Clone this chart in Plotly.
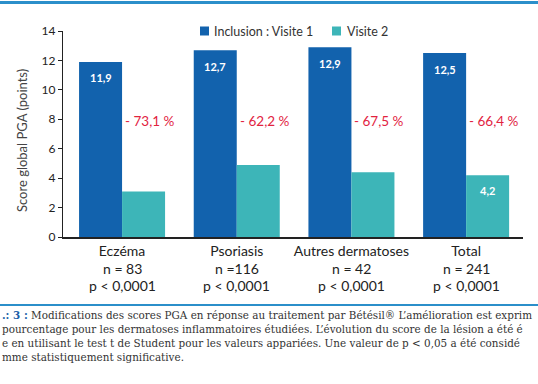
import plotly.graph_objects as go

categories = ["Eczéma", "Psoriasis", "Autres dermatoses", "Total"]
cat_n = ["n = 83", "n =116", "n = 42", "n = 241"]
cat_p = ["p < 0,0001", "p < 0,0001", "p < 0,0001", "p < 0,0001"]
series_names = ["Inclusion : Visite 1", "Visite 2"]
inclusion = [11.9, 12.7, 12.9, 12.5]
visite2 = [3.1, 4.9, 4.4, 4.2]
inclusion_labels = ["11,9", "12,7", "12,9", "12,5"]
visite2_labels = ["", "", "", "4,2"]
reductions = ["- 73,1 %", "- 62,2 %", "- 67,5 %", "- 66,4 %"]
y_ticks = [0, 2, 4, 6, 8, 10, 12, 14]

W, H = 538, 384
L, R, T, B = 63, 15, 31, 147
PW, PH = W - L - R, H - T - B

def px(x):
    return (x - L) / PW

def py(y):
    return (H - B - y) / PH

BLUE = "#1262ad"
TEAL = "#3db5b8"
RED = "#e2233f"
LINE = "#2b8fca"
FONT = "Lato"
colors = [BLUE, TEAL]

fig = go.Figure()
fig.add_trace(go.Bar(x=categories, y=inclusion, name=series_names[0],
                     marker=dict(color=BLUE, line=dict(width=0))))
fig.add_trace(go.Bar(x=categories, y=visite2, name=series_names[1],
                     marker=dict(color=TEAL, line=dict(width=0))))

ann = []
off = 0.1875
for i, (v, t) in enumerate(zip(inclusion, inclusion_labels)):
    ann.append(dict(x=i - off, y=v, xref="x", yref="y", text=f"<b>{t}</b>",
                    showarrow=False, yshift=-16,
                    font=dict(family=FONT, size=11, color="white")))
for i, (v, t) in enumerate(zip(visite2, visite2_labels)):
    if t:
        ann.append(dict(x=i + off, y=v, xref="x", yref="y", text=f"<b>{t}</b>",
                        showarrow=False, yshift=-15,
                        font=dict(family=FONT, size=11, color="white")))
for i, t in enumerate(reductions):
    ann.append(dict(x=i + off, y=7.9, xref="x", yref="y", text=t,
                    showarrow=False, xshift=6,
                    font=dict(family=FONT, size=13.5, color=RED)))

for i, (n, p) in enumerate(zip(cat_n, cat_p)):
    ann.append(dict(x=i, y=py(268), xref="x", yref="paper", text=n, showarrow=False,
                    yanchor="middle", font=dict(family=FONT, size=14, color="#222222")))
    ann.append(dict(x=i, y=py(285), xref="x", yref="paper", text=p, showarrow=False,
                    yanchor="middle", font=dict(family=FONT, size=14, color="#222222")))

ann.append(dict(x=px(12), y=py(141), xref="paper", yref="paper",
                text="Score global PGA (points)", textangle=-90, showarrow=False,
                font=dict(family=FONT, size=13, color="#444444")))

caption = [
    "<span style='color:#1a5fa8'><b>.: 3 :</b></span> Modifications des scores PGA en réponse au traitement par Bétésil® L’amélioration est exprim",
    "pourcentage pour les dermatoses inflammatoires étudiées. L’évolution du score de la lésion a été é",
    "e en utilisant le test t de Student pour les valeurs appariées. Une valeur de p &lt; 0,05 a été considé",
    "mme statistiquement significative.",
]
for k, line in enumerate(caption):
    ann.append(dict(x=px(0), y=py(315 + 14 * k), xref="paper", yref="paper",
                    xanchor="left", yanchor="middle", text=line, showarrow=False,
                    font=dict(family="DejaVu Serif", size=10.4, color="#333333")))

# top rule drawn as a filled annotation box
ann.append(dict(x=px(0), y=py(2.5), xref="paper", yref="paper", xanchor="left",
                yanchor="middle", text=" ", showarrow=False, width=W, height=2,
                bgcolor=LINE, borderpad=0, borderwidth=0,
                font=dict(size=1, color=LINE)))

shapes = [
    dict(type="rect", xref="paper", yref="paper", x0=px(0), x1=px(W), y0=py(4), y1=py(1),
         fillcolor=LINE, line=dict(width=0), layer="above"),
    dict(type="line", xref="paper", yref="paper", x0=px(0), x1=px(W), y0=py(305), y1=py(305),
         line=dict(color=LINE, width=2)),
]

# legend (drawn as layout items for exact placement)
legend_sq_x = [200, 332]
legend_tx_x = [212, 345]
for name, col, sx, tx in zip(series_names, colors, legend_sq_x, legend_tx_x):
    shapes.append(dict(type="rect", xref="paper", yref="paper",
                       x0=px(sx), x1=px(sx + 9), y0=py(35.5), y1=py(26.5),
                       fillcolor=col, line=dict(width=0)))
    ann.append(dict(x=px(tx), y=py(31), xref="paper", yref="paper", xanchor="left",
                    yanchor="middle", text=name, showarrow=False,
                    font=dict(family=FONT, size=12.5, color="#333333")))

fig.update_layout(
    width=W, height=H,
    margin=dict(l=L, r=R, t=T, b=B, pad=0),
    paper_bgcolor="white", plot_bgcolor="white",
    barmode="group", bargap=0.25, bargroupgap=0,
    font=dict(family=FONT, size=12, color="#222222"),
    showlegend=False,
    annotations=ann,
    shapes=shapes,
    xaxis=dict(range=[-0.515, 3.496], tickmode="array", tickvals=list(range(len(categories))),
               ticktext=categories, showline=True, linecolor="#222222", linewidth=1.5,
               ticks="", showgrid=False, zeroline=False, automargin=False,
               tickfont=dict(family=FONT, size=14, color="#222222")),
    yaxis=dict(range=[0, 14], tickvals=y_ticks, showline=True, linecolor="#222222",
               linewidth=1.2, ticks="outside", ticklen=4, tickcolor="#222222",
               showgrid=False, zeroline=False, automargin=False,
               tickfont=dict(family=FONT, size=12, color="#222222")),
)

fig.write_html("out.html", config={"displayModeBar": False},
               post_script="document.body.style.margin='0';")
